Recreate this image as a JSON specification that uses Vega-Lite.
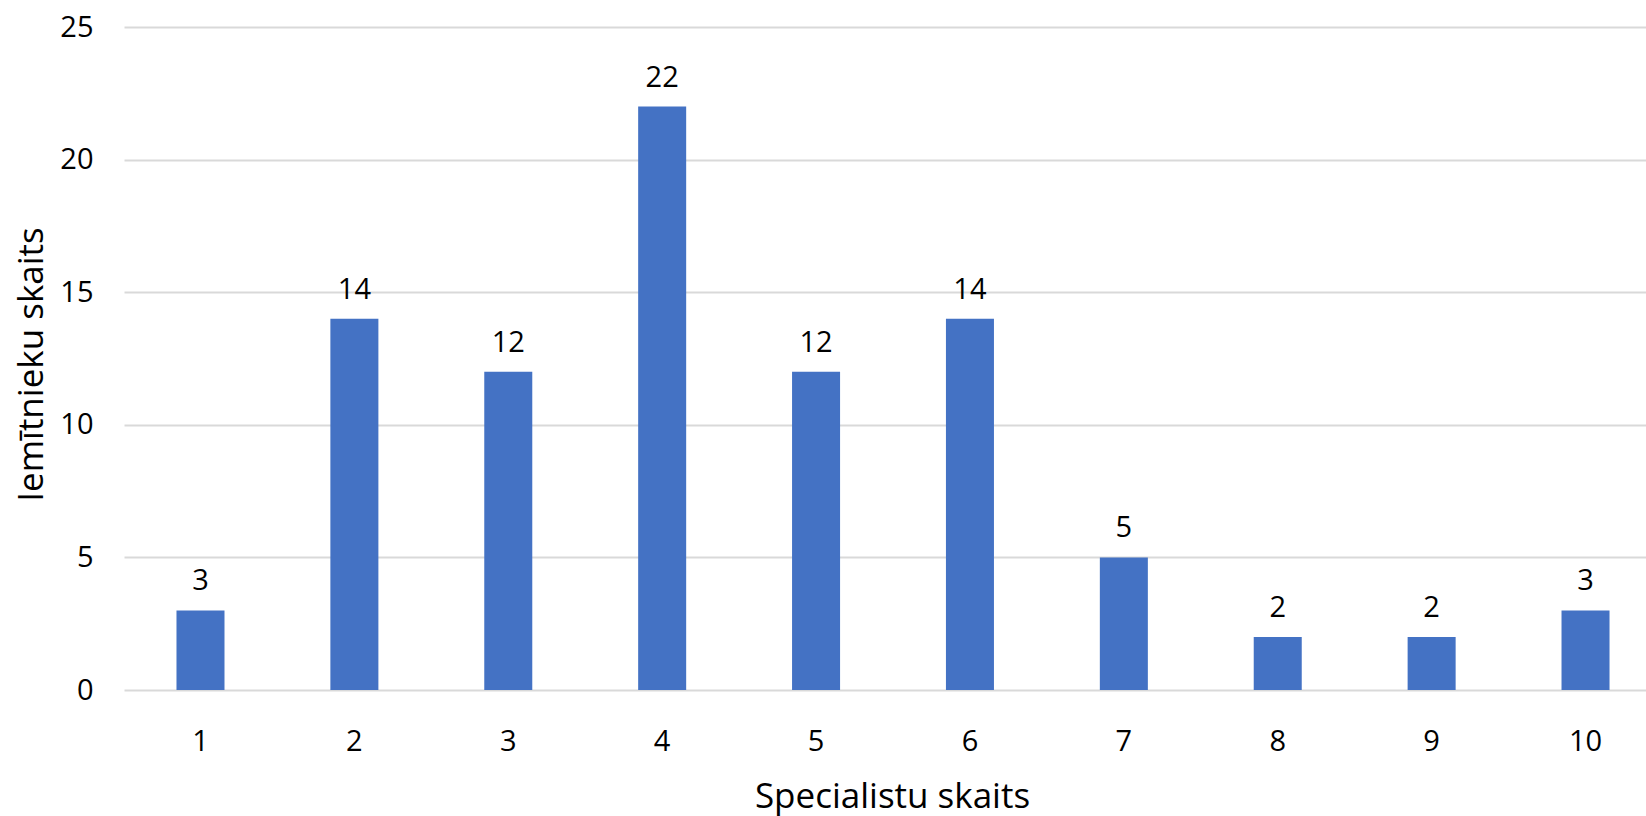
{
  "$schema": "https://vega.github.io/schema/vega-lite/v6.json",
  "autosize": {"type": "none"},
  "padding": {"left": 124, "top": 27, "right": 0, "bottom": 126},
  "width": 1522,
  "height": 663,
  "background": "white",
  "config": {
    "view": {"stroke": null},
    "font": "Open Sans"
  },
  "data": {
    "values": [
      {"specialisti": "1", "iemitnieki": 3},
      {"specialisti": "2", "iemitnieki": 14},
      {"specialisti": "3", "iemitnieki": 12},
      {"specialisti": "4", "iemitnieki": 22},
      {"specialisti": "5", "iemitnieki": 12},
      {"specialisti": "6", "iemitnieki": 14},
      {"specialisti": "7", "iemitnieki": 5},
      {"specialisti": "8", "iemitnieki": 2},
      {"specialisti": "9", "iemitnieki": 2},
      {"specialisti": "10", "iemitnieki": 3}
    ]
  },
  "encoding": {
    "x": {
      "field": "specialisti",
      "type": "ordinal",
      "sort": null,
      "scale": {"paddingInner": 0.688, "paddingOuter": 0.289, "align": 0.59},
      "axis": {
        "title": "Specialistu skaits",
        "titleFont": "Open Sans",
        "titleFontSize": 35,
        "titleFontWeight": "normal",
        "titleColor": "#000000",
        "titleX": 768,
        "titleY": 117,
        "titleAlign": "center",
        "titleBaseline": "alphabetic",
        "labelAngle": 0,
        "labelFontSize": 29,
        "labelColor": "#000000",
        "labelBaseline": "alphabetic",
        "labelPadding": 60,
        "ticks": false,
        "tickSize": 0,
        "domain": false,
        "grid": false
      }
    },
    "y": {
      "field": "iemitnieki",
      "type": "quantitative",
      "scale": {"domain": [0, 25], "nice": false},
      "axis": {
        "title": "Iemītnieku skaits",
        "titleFont": "Open Sans",
        "titleFontSize": 35,
        "titleFontWeight": "normal",
        "titleColor": "#000000",
        "titleAngle": -90,
        "titleX": -82,
        "titleY": 337,
        "titleAlign": "center",
        "titleBaseline": "alphabetic",
        "values": [0, 5, 10, 15, 20, 25],
        "labelFontSize": 29,
        "labelColor": "#000000",
        "labelPadding": 31,
        "ticks": false,
        "tickSize": 0,
        "domain": false,
        "grid": true,
        "gridColor": "#D9D9D9",
        "gridWidth": 2
      }
    }
  },
  "layer": [
    {"mark": {"type": "bar", "color": "#4472C4"}},
    {
      "mark": {"type": "text", "baseline": "alphabetic", "dy": -20, "fontSize": 29, "color": "#000000", "font": "Open Sans"},
      "encoding": {"text": {"field": "iemitnieki", "type": "quantitative"}}
    }
  ]
}
